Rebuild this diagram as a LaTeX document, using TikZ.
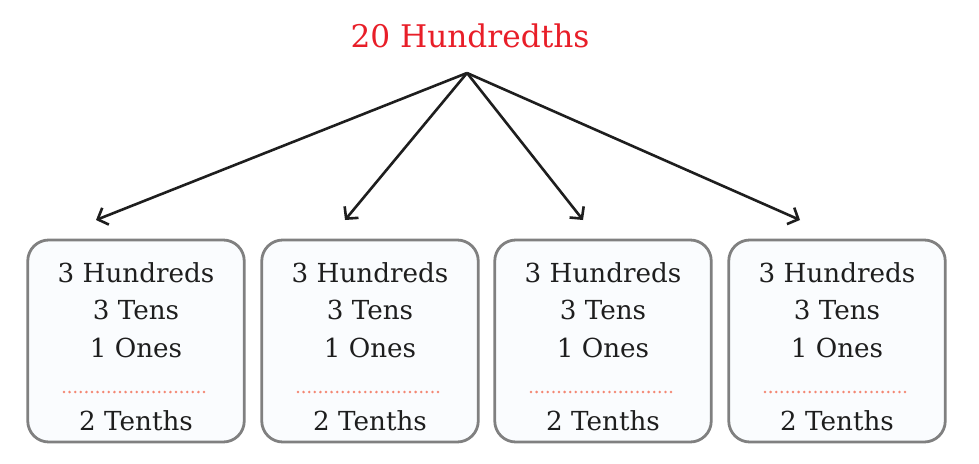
\documentclass[tikz,border=0pt]{standalone}
\usepackage{fontspec}
\setmainfont{DejaVu Serif}
\usetikzlibrary{arrows.meta}
\definecolor{titlered}{RGB}{232,30,40}
\definecolor{ink}{RGB}{30,30,30}
\definecolor{boxline}{RGB}{128,128,128}
\definecolor{boxfill}{RGB}{250,252,254}
\definecolor{dotred}{RGB}{244,135,115}
\tikzset{
  unitbox/.style={draw=boxline, fill=boxfill, line width=2.8pt, rounded corners=21pt},
  unittext/.style={anchor=base, text=ink, font=\fontsize{26.2}{30}\selectfont, inner sep=0pt},
  titletext/.style={anchor=base, text=titlered, font=\fontsize{31.2}{36}\selectfont, inner sep=0pt},
  splitarrow/.style={draw=ink, line width=2.6pt, -{Straight Barb[length=8.5pt,width=18pt,line width=2.6pt]}},
  sepdots/.style={draw=dotred, line width=2.8pt, line cap=round, dash pattern=on 0pt off 5.6pt}
}
\begin{document}
\begin{tikzpicture}[x=1pt,y=-1pt]
\useasboundingbox (0,0) rectangle (979,463);
\node[titletext] (title) at (470,47) {20 Hundredths};
\coordinate (apex) at (467,73);
\foreach \i/\cx/\tx in {1/136/96, 2/370/345, 3/603/583, 4/837/800} {
  \coordinate (tip\i) at (\tx,220);
  \draw[splitarrow] (apex) -- (tip\i);
  \draw[unitbox] (\cx-108.25,240) rectangle (\cx+108.25,442);
  \node[unittext] (h\i) at (\cx,282) {3 Hundreds};
  \node[unittext] (t\i) at (\cx,319.5) {3 Tens};
  \node[unittext] (o\i) at (\cx,357) {1 Ones};
  \coordinate (dl\i) at (\cx-72,392);
  \coordinate (dr\i) at (\cx+72,392);
  \draw[sepdots] (dl\i) -- (dr\i);
  \node[unittext] (f\i) at (\cx,430) {2 Tenths};
}
\end{tikzpicture}
\end{document}
